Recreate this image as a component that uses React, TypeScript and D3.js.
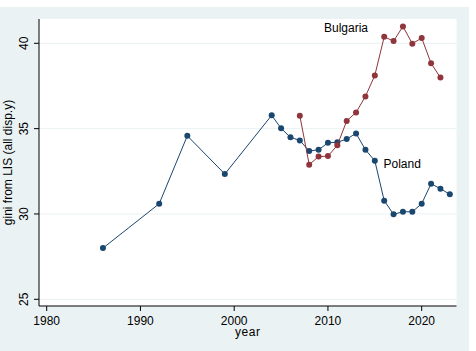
import React from "react";
import * as d3 from "d3";

// Poland
const polandYears = [1986, 1992, 1995, 1999, 2004, 2005, 2006, 2007, 2008, 2009, 2010, 2011, 2012, 2013, 2014, 2015, 2016, 2017, 2018, 2019, 2020, 2021, 2022, 2023];
const polandGini = [28.0, 30.6, 34.58, 32.34, 35.78, 35.02, 34.49, 34.31, 33.69, 33.76, 34.17, 34.2, 34.39, 34.72, 33.76, 33.12, 30.78, 29.98, 30.13, 30.13, 30.6, 31.77, 31.48, 31.15];

// Bulgaria
const bulgariaYears = [2007, 2008, 2009, 2010, 2011, 2012, 2013, 2014, 2015, 2016, 2017, 2018, 2019, 2020, 2021, 2022];
const bulgariaGini = [35.76, 32.89, 33.36, 33.39, 34.02, 35.45, 35.95, 36.89, 38.12, 40.38, 40.13, 40.99, 39.98, 40.31, 38.83, 37.99];

const xTicks = [1980, 1990, 2000, 2010, 2020];
const yTicks = [25, 30, 35, 40];

const W = 476;
const H = 351;
const font = "'Liberation Sans', Arial, sans-serif";

const App = () => {
  const x = d3.scaleLinear().domain([1980, 2020]).range([46.7, 421.7]);
  const y = d3.scaleLinear().domain([25, 40]).range([299.3, 43.3]);

  const left = 39;
  const right = 456.5;
  const top = 19;
  const bottom = 306;

  const line = d3
    .line<[number, number]>()
    .x((d) => x(d[0]))
    .y((d) => y(d[1]));

  const series = [
    { name: "Poland", color: "#1a476f", pts: polandYears.map((yr, i) => [yr, polandGini[i]] as [number, number]) },
    { name: "Bulgaria", color: "#90353b", pts: bulgariaYears.map((yr, i) => [yr, bulgariaGini[i]] as [number, number]) },
  ];

  return (
    <div style={{ position: "fixed", left: 0, top: 0 }}>
      <svg width={W} height={H} style={{ display: "block" }} fontFamily={font}>
        <rect width={W} height={H} fill="#ffffff" />
        {/* graph region */}
        <rect x={0} y={7} width={469} height={H - 7} fill="#eaf2f3" />
        {/* plot region */}
        <rect x={left} y={top} width={right - left} height={bottom - top} fill="#ffffff" />

        {/* gridlines */}
        {yTicks.map((t) => (
          <line key={t} x1={left} x2={right} y1={y(t)} y2={y(t)} stroke="#eaf2f3" strokeWidth={1} />
        ))}

        {/* axes */}
        <line x1={left} x2={left} y1={top} y2={bottom} stroke="#000" strokeWidth={1} />
        <line x1={left} x2={right} y1={bottom} y2={bottom} stroke="#000" strokeWidth={1} />

        {yTicks.map((t) => (
          <g key={t}>
            <line x1={left - 5} x2={left} y1={y(t)} y2={y(t)} stroke="#000" />
            <text
              transform={`translate(${24},${y(t)}) rotate(-90)`}
              textAnchor="middle"
              dominantBaseline="central"
              fontSize={12}
              fill="#000"
            >
              {t}
            </text>
          </g>
        ))}

        {xTicks.map((t) => (
          <g key={t}>
            <line x1={x(t)} x2={x(t)} y1={bottom} y2={bottom + 5} stroke="#000" />
            <text x={x(t)} y={324.5} textAnchor="middle" fontSize={12} fill="#000">
              {t}
            </text>
          </g>
        ))}

        <text x={(left + right) / 2} y={336} textAnchor="middle" fontSize={12} fill="#000" letterSpacing={0.5}>
          year
        </text>
        <text
          transform={`translate(${8},${(top + bottom) / 2}) rotate(-90)`}
          textAnchor="middle"
          dominantBaseline="central"
          fontSize={12}
          fill="#000"
        >
          gini from LIS (all disp.y)
        </text>

        {series.map((s) => (
          <g key={s.name}>
            <path d={line(s.pts) ?? ""} fill="none" stroke={s.color} strokeWidth={1} />
            {s.pts.map((p, i) => (
              <circle key={i} cx={x(p[0])} cy={y(p[1])} r={3} fill={s.color} />
            ))}
          </g>
        ))}

        <text x={324} y={31.5} fontSize={12} fill="#000">
          Bulgaria
        </text>
        <text x={383.5} y={167.5} fontSize={12} fill="#000">
          Poland
        </text>
      </svg>
    </div>
  );
};

export default App;
